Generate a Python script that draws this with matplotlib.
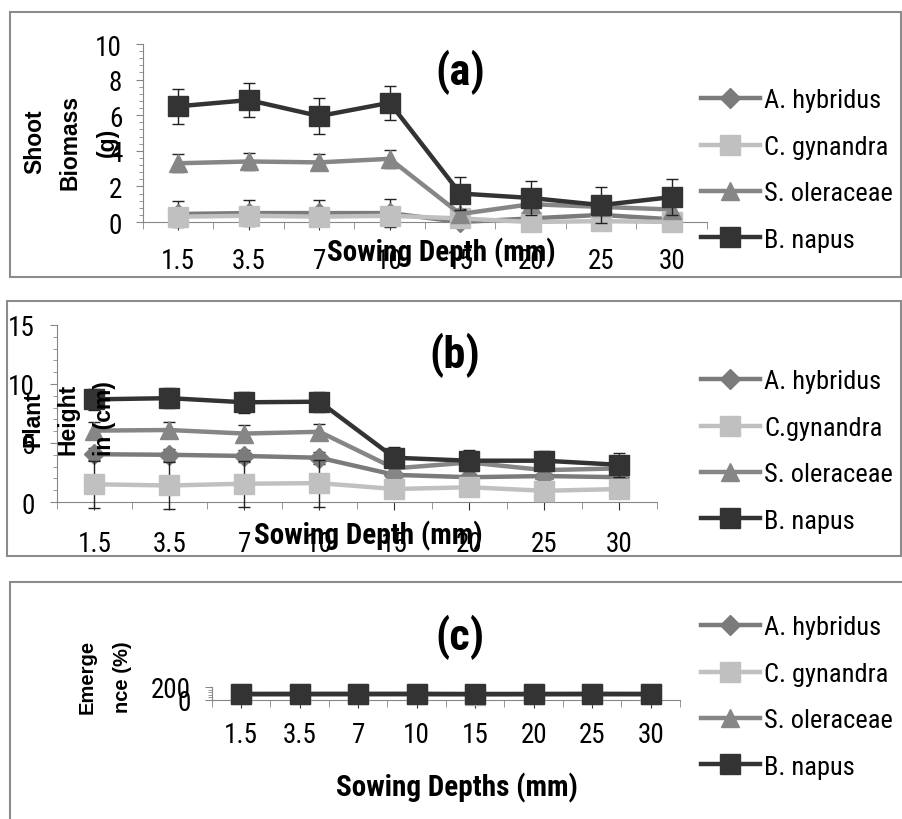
import matplotlib
matplotlib.use("Agg")
import matplotlib.pyplot as plt
from matplotlib import font_manager
from matplotlib.patches import Rectangle
from matplotlib.ticker import MultipleLocator

# sowing depths and species
depths = ["1.5", "3.5", "7", "10", "15", "20", "25", "30"]
species = ["A. hybridus", "C. gynandra", "S. oleraceae", "B. napus"]
species_b = ["A. hybridus", "C.gynandra", "S. oleraceae", "B. napus"]

# (a) shoot biomass (g)
biomass_ah = [0.45, 0.5, 0.5, 0.5, 0.0, 0.2, 0.4, 0.15]
biomass_cg = [0.3, 0.35, 0.3, 0.35, 0.2, 0.0, 0.05, 0.0]
biomass_so = [3.3, 3.4, 3.35, 3.55, 0.45, 1.0, 0.85, 0.7]
biomass_bn = [6.5, 6.85, 5.95, 6.7, 1.6, 1.35, 0.95, 1.4]
biomass_ah_err = [0.75, 0.75, 0.75, 0.8, 0.25, 0.2, 0.2, 0.15]
biomass_cg_err = [0.2, 0.2, 0.2, 0.2, 0.15, 0.1, 0.1, 0.1]
biomass_so_err = [0.5, 0.5, 0.45, 0.5, 0.3, 0.3, 0.25, 0.25]
biomass_bn_err = [1.0, 0.95, 1.0, 0.95, 0.95, 0.95, 1.0, 1.0]

# (b) plant height (cm)
height_ah = [4.05, 4.0, 3.9, 3.75, 2.3, 2.1, 2.2, 2.1]
height_cg = [1.5, 1.4, 1.55, 1.6, 1.1, 1.25, 0.95, 1.1]
height_so = [6.05, 6.1, 5.8, 5.95, 2.85, 3.35, 2.7, 2.85]
height_bn = [8.7, 8.8, 8.45, 8.5, 3.75, 3.5, 3.5, 3.15]
height_ah_err = [0.5, 0.5, 0.5, 0.5, 0.3, 0.3, 0.3, 0.3]
height_cg_err = [2.0, 2.0, 1.95, 2.0, 0.3, 0.3, 0.3, 0.3]
height_so_err = [0.75, 0.7, 0.7, 0.7, 0.3, 0.3, 0.3, 0.3]
height_bn_err = [0.9, 0.85, 0.9, 0.85, 0.9, 0.9, 0.85, 1.0]

# (c) emergence (%)
emerg_ah = [88, 90, 90, 90, 86, 89, 90, 88]
emerg_cg = [85, 86, 88, 88, 80, 86, 88, 86]
emerg_so = [90, 90, 91, 92, 88, 90, 91, 90]
emerg_bn = [94, 94, 94, 94, 93, 93, 94, 94]

colors = ["#7b7b7b", "#c0c0c0", "#868686", "#333333"]
markers = ["D", "s", "^", "s"]
msizes = [10, 14, 13, 15]


# look for a narrow / condensed sans face, the chart uses one
def pick_narrow():
    fl = font_manager.fontManager.ttflist
    for want in ["Liberation Sans Narrow", "Arial Narrow", "Roboto Condensed",
                 "Open Sans Condensed", "Noto Sans Condensed", "DejaVu Sans Condensed"]:
        if any(f.name == want for f in fl):
            return want, "normal"
    for f in fl:
        if f.stretch in ("condensed", "semi-condensed") and "Mono" not in f.name \
                and "Serif" not in f.name:
            return f.name, f.stretch
    return None, None


NARROW, STRETCH = pick_narrow()
if NARROW is None:
    NARROW, STRETCH, TS, LS = "Liberation Sans", "normal", 15.5, 15
else:
    TS, LS = 19.5, 19
BOLD = "Liberation Sans"
AXIS = "#868686"
NF = {"family": NARROW, "stretch": STRETCH}

W, H = 903, 820
fig = plt.figure(figsize=(W / 100, H / 100), dpi=100)


def rect(l, t, r, b):
    return [l / W, 1 - b / H, (r - l) / W, (b - t) / H]


def box(l, t, r, b):
    fig.add_artist(Rectangle((l / W, 1 - b / H), (r - l) / W, (b - t) / H,
                             transform=fig.transFigure, fill=False,
                             edgecolor="#8c8c8c", lw=1.5, clip_on=False))


def panel(ax, data, errs, ymax, major, minor, xpad, ypad):
    x = list(range(len(depths)))
    lines = []
    for i in range(4):
        if errs is not None:
            ax.errorbar(x, data[i], yerr=errs[i], fmt="none", ecolor="#222222",
                        elinewidth=1, capsize=4, capthick=1, zorder=2 + i, clip_on=False)
        ln, = ax.plot(x, data[i], color=colors[i], lw=3.2, marker=markers[i],
                      ms=msizes[i], mec=colors[i], mfc=colors[i], zorder=3 + i,
                      clip_on=False)
        lines.append(ln)
    ax.set_xlim(-0.5, 7.5)
    ax.set_ylim(0, ymax)
    ax.set_xticks(x)
    ax.set_xticklabels(depths)
    ax.set_xticks([i - 0.5 for i in range(9)], minor=True)
    ax.yaxis.set_major_locator(MultipleLocator(major))
    ax.yaxis.set_minor_locator(MultipleLocator(minor))
    for s in ["top", "right"]:
        ax.spines[s].set_visible(False)
    for s in ["left", "bottom"]:
        ax.spines[s].set_color(AXIS)
    ax.tick_params(axis="x", which="major", length=6, color="#333333", pad=xpad,
                   labelsize=TS)
    ax.tick_params(axis="x", which="minor", length=5, color=AXIS)
    ax.tick_params(axis="y", which="major", length=5, color=AXIS, pad=ypad, labelsize=TS)
    ax.tick_params(axis="y", which="minor", length=3, color=AXIS)
    for t in ax.get_xticklabels() + ax.get_yticklabels():
        t.set_fontfamily(NARROW)
        t.set_fontstretch(STRETCH)
    ax.patch.set_alpha(0)
    return lines


def legend(lines, labels, ycenter):
    px = LS * 100 / 72
    fig.legend(lines, labels, loc="center left",
               bbox_to_anchor=(701 / W, 1 - ycenter / H), frameon=False,
               prop={"family": NARROW, "stretch": STRETCH, "size": LS},
               handlelength=59 / px, handletextpad=4 / px,
               labelspacing=(48.5 - 0.99 * px) / px, borderpad=0, borderaxespad=0)


def ftext(x, y, s, **kw):
    fig.text(x / W, 1 - y / H, s, ha="center", va="center", **kw)


# panel borders
box(10, 13, 901, 278)
box(7, 302, 901, 557)
box(10, 583, 912, 832)

# (a)
ax1 = fig.add_axes(rect(143, 45, 707, 223))
l1 = panel(ax1, [biomass_ah, biomass_cg, biomass_so, biomass_bn],
           [biomass_ah_err, biomass_cg_err, biomass_so_err, biomass_bn_err],
           10, 2, 0.4, 12, 10)
legend(l1, species, 171)
ftext(460, 72, "(a)", weight="bold", size=32, **NF)
ftext(441, 253, "Sowing Depth (mm)", weight="bold", size=21, **NF)
for xx, s in zip([35, 70, 107], ["Shoot", "Biomass", "(g)"]):
    ftext(xx, 142, s, family=BOLD, weight="bold", size=16.5, rotation=90)

# (b)
ax2 = fig.add_axes(rect(57, 326, 657, 503))
l2 = panel(ax2, [height_ah, height_cg, height_so, height_bn],
           [height_ah_err, height_cg_err, height_so_err, height_bn_err],
           15, 5, 1, 14, 11)
legend(l2, species_b, 452)
ftext(455, 355, "(b)", weight="bold", size=32, **NF)
ftext(368, 536, "Sowing Depth (mm)", weight="bold", size=21, **NF)
for xx, s in zip([33, 68, 105], ["Plant", "Height", "in (cm)"]):
    ftext(xx, 419, s, family=BOLD, weight="bold", size=16.5, rotation=90)

# (c)
ax3 = fig.add_axes(rect(212, 688, 680, 701))
l3 = panel(ax3, [emerg_ah, emerg_cg, emerg_so, emerg_bn], None,
           200, 200, 40, 9, 10)
legend(l3, species, 698)
ftext(460, 637, "(c)", weight="bold", size=32, **NF)
ftext(457, 788, "Sowing Depths (mm)", weight="bold", size=21, **NF)
for xx, s in zip([87, 123], ["Emerge", "nce (%)"]):
    ftext(xx, 677, s, family=BOLD, weight="bold", size=14.5, rotation=90)

fig.savefig("out.png", dpi=100)
